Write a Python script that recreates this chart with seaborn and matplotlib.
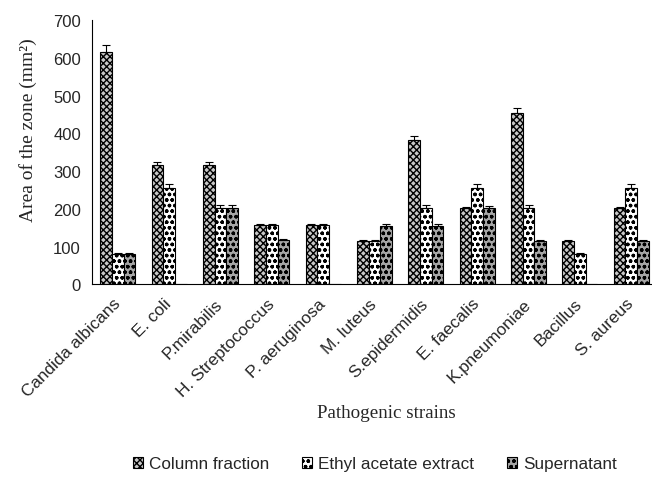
import numpy as np
import pandas as pd
import matplotlib
matplotlib.use("Agg")
import matplotlib.pyplot as plt
import matplotlib.transforms as mtransforms
from matplotlib.patches import Patch
import seaborn as sns

strains = ["Candida albicans", "E. coli", "P.mirabilis", "H. Streptococcus",
           "P. aeruginosa", "M. luteus", "S.epidermidis", "E. faecalis",
           "K.pneumoniae", "Bacillus", "S. aureus"]
fractions = ["Column fraction", "Ethyl acetate extract", "Supernatant"]

column_fraction = [616, 316, 316, 157, 157, 116, 382, 202, 454, 116, 202]
ethyl_acetate = [81, 255, 202, 157, 157, 116, 202, 255, 202, 80, 255]
supernatant = [81, 0, 202, 117, 0, 155, 155, 202, 116, 0, 116]

column_err = [18, 8, 8, 2, 2, 2, 10, 4, 12, 2, 4]
ethyl_err = [2, 11, 8, 4, 4, 2, 8, 11, 8, 2, 11]
super_err = [2, 0, 8, 2, 0, 5, 5, 6, 2, 0, 2]

yticks = [0, 100, 200, 300, 400, 500, 600, 700]

values = [column_fraction, ethyl_acetate, supernatant]
errors = [column_err, ethyl_err, super_err]

df = pd.DataFrame({
    "Strain": np.repeat([strains], 3, axis=0).ravel(),
    "Fraction": np.repeat(fractions, len(strains)),
    "Area": np.concatenate(values),
})

sns.set_style("white")
plt.rcParams["hatch.linewidth"] = 1.0
plt.rcParams["font.family"] = ["Liberation Sans", "DejaVu Sans"]

faces = {"Column fraction": "#c8c8c8",
         "Ethyl acetate extract": "#ffffff",
         "Supernatant": "#a6a6a6"}
hatches = {"Column fraction": "xxxxx",
           "Ethyl acetate extract": "ooo",
           "Supernatant": "ooo"}

fig = plt.figure(figsize=(6.52, 4.81), dpi=100)
ax = fig.add_axes([92 / 652, 195.7 / 481, 565 / 652, 264.3 / 481])

sns.barplot(data=df, x="Strain", y="Area", hue="Fraction", order=strains,
            hue_order=fractions, palette=faces, width=0.68, errorbar=None,
            edgecolor="black", linewidth=0.8, legend=False, ax=ax)

for cont, frac, err in zip(ax.containers, fractions, errors):
    xs, hs = [], []
    for bar in cont:
        bar.set_hatch(hatches[frac])
        bar.set_edgecolor("black")
        xs.append(bar.get_x() + bar.get_width() / 2)
        hs.append(bar.get_height())
    err = np.asarray(err, dtype=float)
    mask = err > 0
    ax.errorbar(np.array(xs)[mask], np.array(hs)[mask],
                yerr=[np.zeros(mask.sum()), err[mask]],
                fmt="none", ecolor="black", elinewidth=0.8,
                capsize=2.9, capthick=0.8)

ax.set_xlim(-0.5, len(strains) - 0.5)
ax.set_ylim(0, 700)
ax.set_yticks(yticks)
ax.set_yticklabels([str(t) for t in yticks], fontsize=12)

ax.set_xticks(range(len(strains)))
ax.set_xticklabels(strains, rotation=45, ha="right", va="center",
                   rotation_mode="anchor", fontsize=12.3)
shift = mtransforms.ScaledTranslation(-11 / 100, 0, fig.dpi_scale_trans)
for lbl in ax.get_xticklabels():
    lbl.set_transform(lbl.get_transform() + shift)
ax.set_xticks(np.arange(-0.5, len(strains)), minor=True)
ax.tick_params(axis="x", which="major", length=0, pad=12)
ax.tick_params(axis="x", which="minor", length=5, width=0.8, direction="out",
               color="black")
ax.tick_params(axis="y", length=5, width=0.8, direction="out", color="black",
               pad=3)

for side in ["top", "right"]:
    ax.spines[side].set_visible(False)
for side in ["left", "bottom"]:
    ax.spines[side].set_color("black")
    ax.spines[side].set_linewidth(0.8)

serif = ["Liberation Serif", "DejaVu Serif"]
ax.set_ylabel("")
ax.set_xlabel("")
fig.text(28 / 652, 1 - 130 / 481, "Area of the zone (mm²)", family=serif,
         fontsize=14, rotation=90, ha="center", va="center")
fig.text(386 / 652, 1 - 414 / 481, "Pathogenic strains", family=serif,
         fontsize=13.7, ha="center", va="center")

handles = [Patch(facecolor=faces[f], edgecolor="black", hatch=hatches[f],
                 linewidth=0.8, label=f) for f in fractions]
fig.legend(handles=handles, loc="center", ncol=3, frameon=False,
           bbox_to_anchor=(375 / 652, 1 - 465 / 481), fontsize=12.3,
           handlelength=0.6, handleheight=0.6, handletextpad=0.35,
           columnspacing=1.9, borderpad=0)

fig.savefig("out.png", dpi=100)
